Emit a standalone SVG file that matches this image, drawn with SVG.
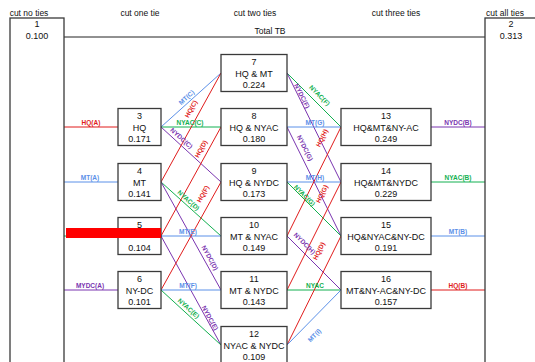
<svg xmlns="http://www.w3.org/2000/svg" width="535" height="362" viewBox="0 0 535 362">
<style>
.bg{fill:#fff}
.box{fill:#fff;stroke:#3a3a3a;stroke-width:1.3}
.t{font-family:"Liberation Sans",Arial,sans-serif;font-size:9px;fill:#111;text-anchor:middle}
.h{font-family:"Liberation Sans",Arial,sans-serif;font-size:8.5px;fill:#111;text-anchor:middle}
.l{font-family:"Liberation Sans",Arial,sans-serif;font-size:6.5px;font-weight:bold;text-anchor:middle}
.ln{stroke-width:1;fill:none}
.r{stroke:#e01b1b}.rf{fill:#e01b1b}
.b{stroke:#5b90e8}.bf{fill:#5b90e8}
.g{stroke:#12b050}.gf{fill:#12b050}
.p{stroke:#7a35b0}.pf{fill:#7a35b0}
</style>
<rect class="bg" x="0" y="0" width="535" height="362"/>
<text class="h" x="29" y="16">cut no ties</text>
<text class="h" x="140" y="16">cut one tie</text>
<text class="h" x="255" y="16">cut two ties</text>
<text class="h" x="396" y="16">cut three ties</text>
<text class="h" x="505" y="16">cut all ties</text>

<g id="connectors">
<line x1="64" y1="37" x2="485" y2="37" stroke="#222" stroke-width="1"/>
<text class="h" x="270" y="34">Total TB</text>
<line class="ln r" x1="10" y1="127" x2="118" y2="127"/>
<line class="ln b" x1="10" y1="182" x2="118" y2="182"/>
<line class="ln g" x1="10" y1="236" x2="118" y2="236"/>
<line class="ln p" x1="10" y1="290" x2="118" y2="290"/>
<text class="l rf" x="91" y="125">HQ(A)</text>
<text class="l bf" x="90" y="180">MT(A)</text>
<text class="l pf" x="90" y="288">MYDC(A)</text>

<line class="ln b" x1="161" y1="127" x2="221" y2="73"/>
<line class="ln g" x1="161" y1="127" x2="221" y2="127"/>
<line class="ln p" x1="161" y1="127" x2="221" y2="182"/>
<line class="ln r" x1="161" y1="182" x2="221" y2="73"/>
<line class="ln g" x1="161" y1="182" x2="221" y2="236"/>
<line class="ln p" x1="161" y1="182" x2="221" y2="290"/>
<line class="ln r" x1="161" y1="236" x2="221" y2="127"/>
<line class="ln b" x1="161" y1="236" x2="221" y2="236"/>
<line class="ln p" x1="161" y1="236" x2="221" y2="345"/>
<line class="ln r" x1="161" y1="290" x2="221" y2="182"/>
<line class="ln b" x1="161" y1="290" x2="221" y2="290"/>
<line class="ln g" x1="161" y1="290" x2="221" y2="345"/>
<text class="l bf" transform="translate(188,99) rotate(-42)">MT(C)</text>
<text class="l rf" transform="translate(193,110) rotate(-61)">HQ(C)</text>
<text class="l gf" x="190" y="125">NYAC(C)</text>
<text class="l pf" transform="translate(180,140) rotate(42)">NYDC(C)</text>
<text class="l rf" transform="translate(203,150) rotate(-61)">HQ(D)</text>
<text class="l gf" transform="translate(187,202) rotate(42)">NYAC(D)</text>
<text class="l rf" transform="translate(205,195) rotate(-61)">HQ(F)</text>
<text class="l bf" x="188" y="234">MT(E)</text>
<text class="l pf" transform="translate(208,259) rotate(61)">NYDC(D)</text>
<text class="l bf" x="188" y="288">MT(F)</text>
<text class="l gf" transform="translate(187,310) rotate(42)">NYAC(E)</text>
<text class="l pf" transform="translate(208,319) rotate(61)">NYDC(E)</text>

<line class="ln g" x1="287" y1="73" x2="341" y2="127"/>
<line class="ln p" x1="287" y1="73" x2="341" y2="182"/>
<line class="ln b" x1="287" y1="127" x2="341" y2="127"/>
<line class="ln p" x1="287" y1="127" x2="341" y2="236"/>
<line class="ln b" x1="287" y1="182" x2="341" y2="182"/>
<line class="ln g" x1="287" y1="182" x2="341" y2="236"/>
<line class="ln r" x1="287" y1="236" x2="341" y2="127"/>
<line class="ln p" x1="287" y1="236" x2="341" y2="290"/>
<line class="ln r" x1="287" y1="290" x2="341" y2="182"/>
<line class="ln g" x1="287" y1="290" x2="341" y2="290"/>
<line class="ln r" x1="287" y1="345" x2="341" y2="236"/>
<line class="ln b" x1="287" y1="345" x2="341" y2="290"/>
<text class="l gf" transform="translate(318,97) rotate(45)">NYAC(F)</text>
<text class="l pf" transform="translate(300,97) rotate(63.6)">NYDC(F)</text>
<text class="l bf" x="315" y="125">MT(G)</text>
<text class="l pf" transform="translate(303,149) rotate(63.6)">NYDC(G)</text>
<text class="l rf" transform="translate(324,139) rotate(-63.6)">HQ(H)</text>
<text class="l bf" x="315" y="180">MT(H)</text>
<text class="l gf" transform="translate(303,197) rotate(45)">NYAC(G)</text>
<text class="l rf" transform="translate(324,195) rotate(-63.6)">HQ(G)</text>
<text class="l pf" transform="translate(303,245) rotate(45)">NYDC(H)</text>
<text class="l rf" transform="translate(321,252) rotate(-63.6)">HQ(D)</text>
<text class="l gf" x="315" y="288">NYAC</text>
<text class="l bf" transform="translate(316,337) rotate(-45)">MT(I)</text>

<line class="ln p" x1="431" y1="127" x2="485" y2="127"/>
<line class="ln g" x1="431" y1="182" x2="485" y2="182"/>
<line class="ln b" x1="431" y1="236" x2="485" y2="236"/>
<line class="ln r" x1="431" y1="290" x2="485" y2="290"/>
<text class="l pf" x="458" y="125">NYDC(B)</text>
<text class="l gf" x="458" y="180">NYAC(B)</text>
<text class="l bf" x="458" y="234">MT(B)</text>
<text class="l rf" x="458" y="288">HQ(B)</text>
</g>

<g id="n1"><rect class="box" x="10" y="18" width="54" height="360"/><text class="t" x="37" y="27">1</text><text class="t" x="37" y="39">0.100</text></g>
<g id="n2"><rect class="box" x="485" y="18" width="54" height="360"/><text class="t" x="511" y="27">2</text><text class="t" x="511" y="39">0.313</text></g>

<g id="n3"><rect class="box" x="118" y="108.5" width="43" height="37"/><text class="t" x="139.5" y="119">3</text><text class="t" x="139.5" y="130.5">HQ</text><text class="t" x="139.5" y="142">0.171</text></g>
<g id="n4"><rect class="box" x="118" y="163.5" width="43" height="37"/><text class="t" x="139.5" y="174">4</text><text class="t" x="139.5" y="185.5">MT</text><text class="t" x="139.5" y="197">0.141</text></g>
<g id="n5"><rect class="box" x="118" y="217.5" width="43" height="37"/><text class="t" x="139.5" y="228">5</text><text class="t" x="139.5" y="251">0.104</text></g>
<g id="n6"><rect class="box" x="118" y="271.5" width="43" height="37"/><text class="t" x="139.5" y="282">6</text><text class="t" x="139.5" y="293.5">NY-DC</text><text class="t" x="139.5" y="305">0.101</text></g>

<g id="n7"><rect class="box" x="221" y="54.5" width="66" height="37"/><text class="t" x="254" y="65">7</text><text class="t" x="254" y="76.5">HQ &amp; MT</text><text class="t" x="254" y="88">0.224</text></g>
<g id="n8"><rect class="box" x="221" y="108.5" width="66" height="37"/><text class="t" x="254" y="119">8</text><text class="t" x="254" y="130.5">HQ &amp; NYAC</text><text class="t" x="254" y="142">0.180</text></g>
<g id="n9"><rect class="box" x="221" y="163.5" width="66" height="37"/><text class="t" x="254" y="174">9</text><text class="t" x="254" y="185.5">HQ &amp; NYDC</text><text class="t" x="254" y="197">0.173</text></g>
<g id="n10"><rect class="box" x="221" y="217.5" width="66" height="37"/><text class="t" x="254" y="228">10</text><text class="t" x="254" y="239.5">MT &amp; NYAC</text><text class="t" x="254" y="251">0.149</text></g>
<g id="n11"><rect class="box" x="221" y="271.5" width="66" height="37"/><text class="t" x="254" y="282">11</text><text class="t" x="254" y="293.5">MT &amp; NYDC</text><text class="t" x="254" y="305">0.143</text></g>
<g id="n12"><rect class="box" x="221" y="326.5" width="66" height="37"/><text class="t" x="254" y="337">12</text><text class="t" x="254" y="348.5">NYAC &amp; NYDC</text><text class="t" x="254" y="360">0.109</text></g>

<g id="n13"><rect class="box" x="341" y="108.5" width="90" height="37"/><text class="t" x="386" y="119">13</text><text class="t" x="386" y="130.5">HQ&amp;MT&amp;NY-AC</text><text class="t" x="386" y="142">0.249</text></g>
<g id="n14"><rect class="box" x="341" y="163.5" width="90" height="37"/><text class="t" x="386" y="174">14</text><text class="t" x="386" y="185.5">HQ&amp;MT&amp;NYDC</text><text class="t" x="386" y="197">0.229</text></g>
<g id="n15"><rect class="box" x="341" y="217.5" width="90" height="37"/><text class="t" x="386" y="228">15</text><text class="t" x="386" y="239.5">HQ&amp;NYAC&amp;NY-DC</text><text class="t" x="386" y="251">0.191</text></g>
<g id="n16"><rect class="box" x="341" y="271.5" width="90" height="37"/><text class="t" x="386" y="282">16</text><text class="t" x="386" y="293.5">MT&amp;NY-AC&amp;NY-DC</text><text class="t" x="386" y="305">0.157</text></g>

<rect x="66" y="228" width="95" height="10" fill="#ff0000"/>
</svg>
